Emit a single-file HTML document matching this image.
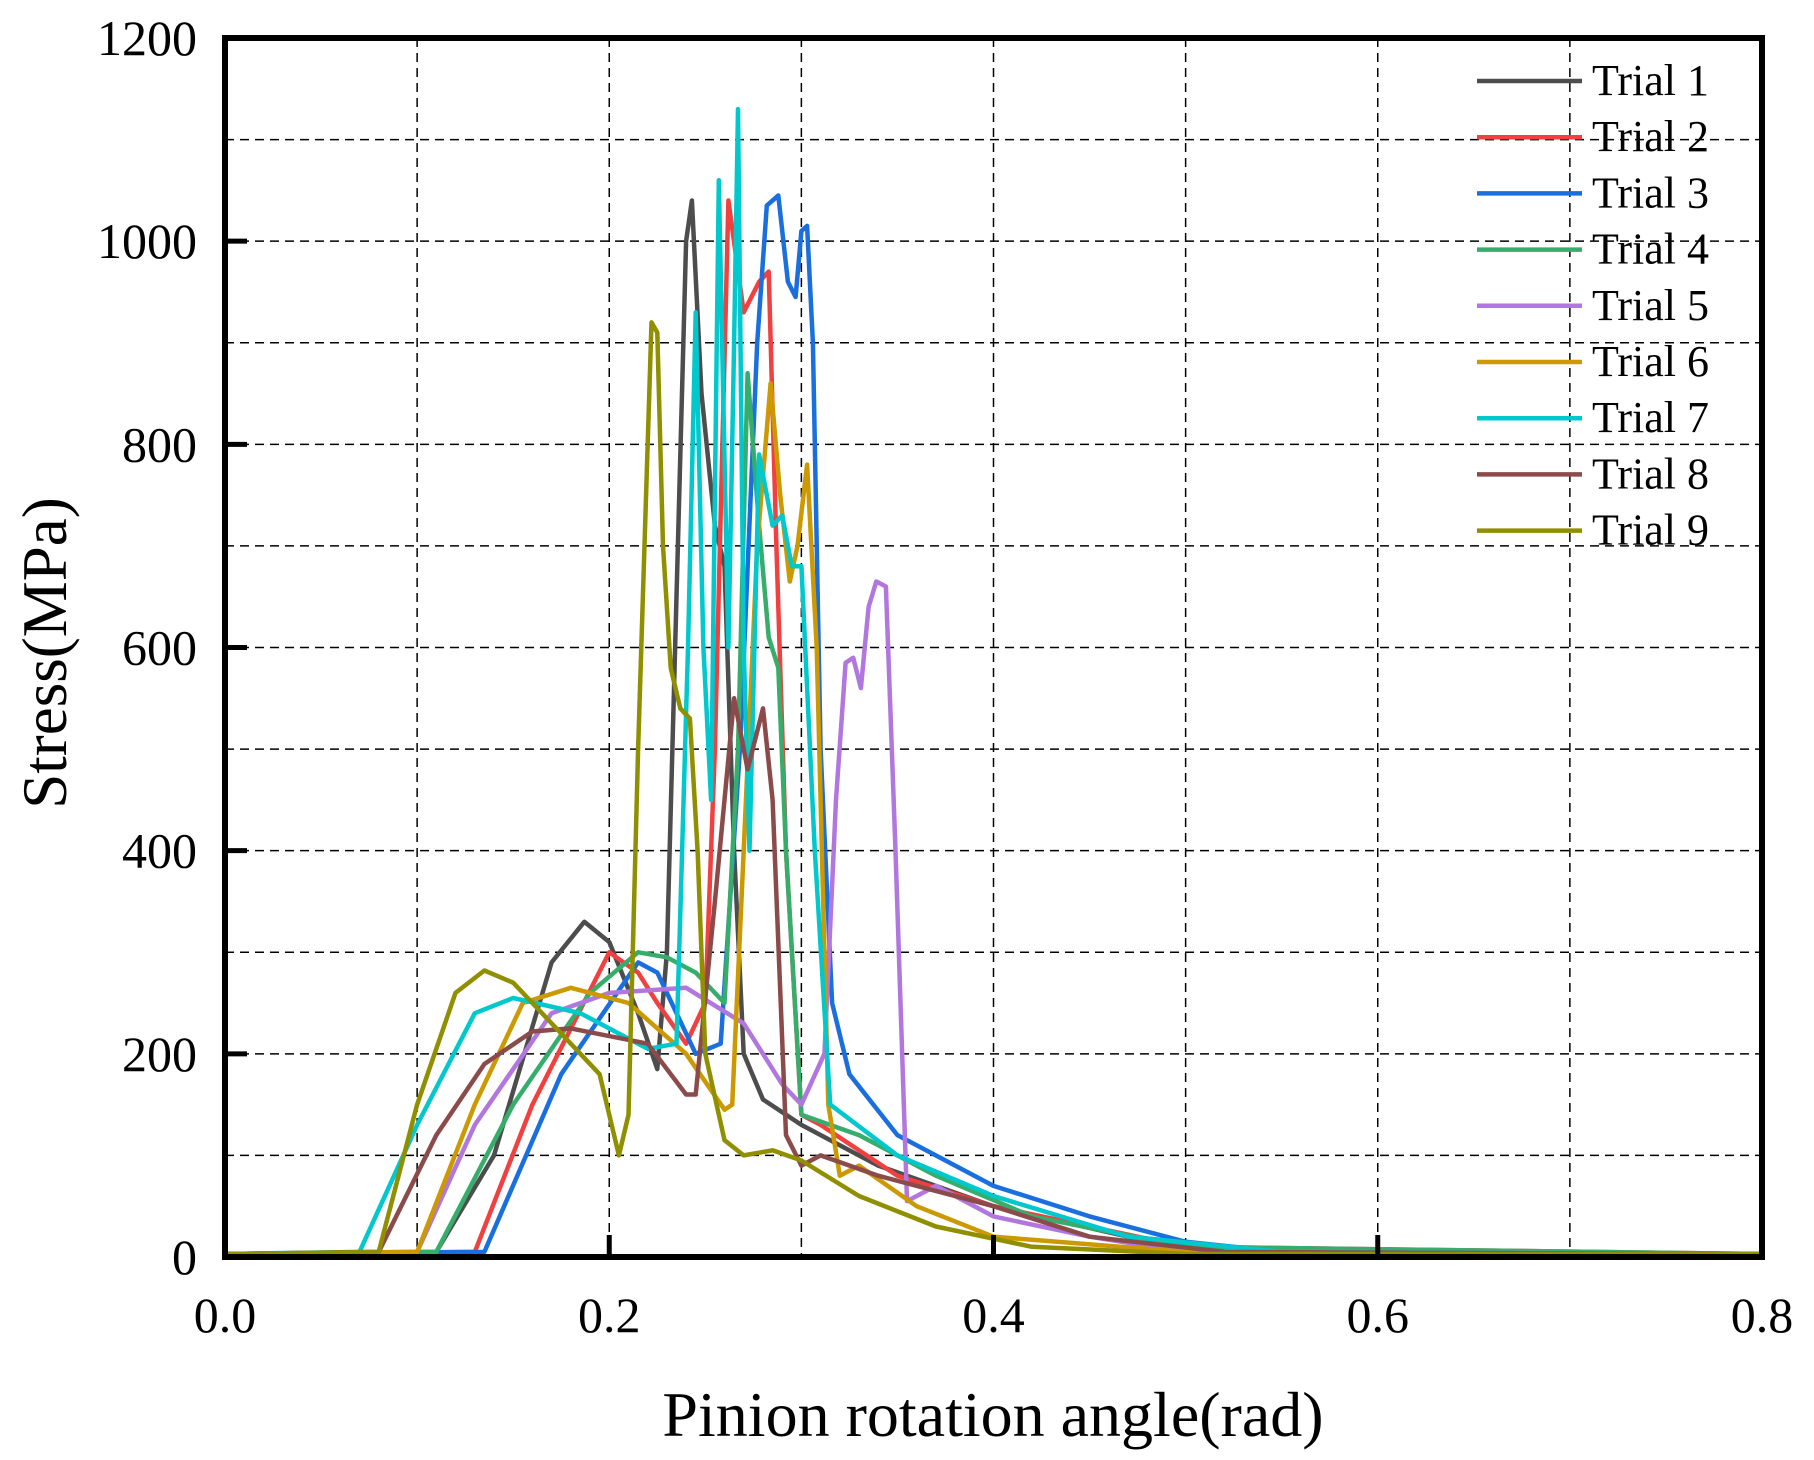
<!DOCTYPE html>
<html><head><meta charset="utf-8"><style>
html,body{margin:0;padding:0;background:#fff;}
svg{display:block;font-family:"Liberation Serif",serif;}
</style></head><body>
<svg id="chart" width="1814" height="1460" viewBox="0 0 1814 1460" xmlns="http://www.w3.org/2000/svg">
<g id="grid"></g>
<g id="series"></g>
<g id="axes"></g>
<g id="legend"></g>
<text x="993" y="1436" font-size="64" text-anchor="middle">Pinion rotation angle(rad)</text>
<text transform="translate(66,653) rotate(-90)" font-size="63" text-anchor="middle">Stress(MPa)</text>
</svg>
<script>
const xTicks = [0.0, 0.2, 0.4, 0.6, 0.8];
const xTickLabels = ["0.0", "0.2", "0.4", "0.6", "0.8"];
const yTicks = [0, 200, 400, 600, 800, 1000, 1200];
const yTickLabels = ["0", "200", "400", "600", "800", "1000", "1200"];
const seriesNames = ["Trial 1","Trial 2","Trial 3","Trial 4","Trial 5","Trial 6","Trial 7","Trial 8","Trial 9"];
const seriesColors = ["#4d4d4d","#f04040","#1a6fdf","#37ad6b","#b177de","#cc9900","#00c8cc","#8b4b4b","#8f8f00"];
const trial1 = [[0,3],[0.11,5],[0.14,100],[0.17,290],[0.187,330],[0.2,310],[0.215,240],[0.225,185],[0.23,300],[0.235,650],[0.24,1000],[0.243,1040],[0.248,850],[0.255,720],[0.26,680],[0.265,400],[0.27,200],[0.28,155],[0.3,130],[0.34,90],[0.4,50],[0.47,20],[0.55,5],[0.8,3]];
const trial2 = [[0,3],[0.13,5],[0.16,150],[0.2,300],[0.215,280],[0.225,250],[0.24,210],[0.25,250],[0.255,500],[0.262,1040],[0.27,930],[0.278,960],[0.283,970],[0.287,700],[0.292,400],[0.3,140],[0.31,130],[0.35,80],[0.4,50],[0.5,10],[0.8,3]];
const trial3 = [[0,3],[0.135,5],[0.175,180],[0.215,290],[0.225,280],[0.245,200],[0.258,210],[0.268,500],[0.277,900],[0.282,1035],[0.288,1045],[0.293,960],[0.297,945],[0.3,1010],[0.303,1015],[0.306,900],[0.31,500],[0.316,250],[0.325,180],[0.35,120],[0.4,70],[0.45,40],[0.5,15],[0.55,5],[0.8,3]];
const trial4 = [[0,3],[0.11,5],[0.15,150],[0.19,260],[0.215,300],[0.23,295],[0.245,280],[0.26,250],[0.267,500],[0.272,870],[0.278,720],[0.283,610],[0.288,580],[0.292,400],[0.3,140],[0.33,120],[0.37,80],[0.42,40],[0.5,10],[0.8,3]];
const trial5 = [[0,3],[0.1,5],[0.13,130],[0.17,240],[0.2,260],[0.24,265],[0.27,230],[0.29,170],[0.3,150],[0.312,200],[0.318,450],[0.323,585],[0.327,590],[0.331,560],[0.335,640],[0.339,665],[0.344,660],[0.349,400],[0.355,55],[0.37,70],[0.4,40],[0.45,20],[0.5,5],[0.8,3]];
const trial6 = [[0,3],[0.1,5],[0.13,150],[0.155,250],[0.18,265],[0.21,250],[0.24,200],[0.26,145],[0.264,150],[0.27,400],[0.277,700],[0.284,860],[0.289,750],[0.294,665],[0.298,700],[0.303,780],[0.308,600],[0.314,150],[0.32,80],[0.33,90],[0.36,50],[0.4,20],[0.5,5],[0.8,3]];
const trial7 = [[0,3],[0.07,5],[0.1,130],[0.13,240],[0.15,255],[0.185,240],[0.22,205],[0.235,210],[0.241,600],[0.245,930],[0.249,600],[0.253,450],[0.257,1060],[0.262,600],[0.265,900],[0.267,1130],[0.27,600],[0.273,400],[0.278,790],[0.285,720],[0.29,730],[0.295,680],[0.3,680],[0.307,400],[0.315,150],[0.35,100],[0.4,60],[0.47,20],[0.55,5],[0.8,3]];
const trial8 = [[0,3],[0.08,5],[0.11,120],[0.135,190],[0.16,222],[0.18,225],[0.22,210],[0.24,160],[0.245,160],[0.255,350],[0.265,550],[0.272,480],[0.28,540],[0.285,450],[0.292,120],[0.3,90],[0.31,100],[0.34,80],[0.4,50],[0.45,20],[0.52,5],[0.8,3]];
const trial9 = [[0,3],[0.08,5],[0.1,150],[0.12,260],[0.135,282],[0.15,270],[0.165,240],[0.18,210],[0.195,180],[0.205,100],[0.21,140],[0.215,500],[0.222,920],[0.225,910],[0.228,700],[0.232,580],[0.237,540],[0.242,530],[0.246,400],[0.25,200],[0.26,115],[0.27,100],[0.285,105],[0.3,95],[0.33,60],[0.37,30],[0.42,10],[0.5,3],[0.8,3]];
const allSeries = [trial1,trial2,trial3,trial4,trial5,trial6,trial7,trial8,trial9];

const L=225,R=1762,T=38,B=1257;
const xs=v=>L+(v-0)/0.8*(R-L);
const ys=v=>B-(v/1200)*(B-T);
const NS="http://www.w3.org/2000/svg";
function mk(tag,attrs,parent){const e=document.createElementNS(NS,tag);for(const k in attrs)e.setAttribute(k,attrs[k]);parent.appendChild(e);return e;}
const grid=document.getElementById('grid'),series=document.getElementById('series'),axes=document.getElementById('axes'),legend=document.getElementById('legend');
for(let i=1;i<8;i++){const gx=xs(i*0.1);
 const l=mk('line',{x1:gx,x2:gx,y1:T,y2:B,stroke:'#000','stroke-width':1.5,'stroke-dasharray':'9,6'},grid);
 
 }
for(let i=1;i<12;i++){const gy=ys(i*100);
 const l=mk('line',{x1:L,x2:R,y1:gy,y2:gy,stroke:'#000','stroke-width':1.5,'stroke-dasharray':'9,6'},grid);
 
 }
allSeries.forEach((s,i)=>{
 const p=mk('polyline',{points:s.map(d=>xs(d[0]).toFixed(1)+','+ys(d[1]).toFixed(1)).join(' '),fill:'none',stroke:seriesColors[i],'stroke-width':4.5,'stroke-linejoin':'round'},series);
 
 
});
const frame=mk('rect',{x:L,y:T,width:R-L,height:B-T,fill:'none',stroke:'#000','stroke-width':6},axes);


xTicks.forEach((v,i)=>{
 const tk=mk('line',{x1:xs(v),x2:xs(v),y1:B,y2:B-22,stroke:'#000','stroke-width':5},axes);
 
 
 const t=mk('text',{x:xs(v),y:B+75,'font-size':50,'text-anchor':'middle'},axes);t.textContent=xTickLabels[i];
 
 
});
yTicks.forEach((v,i)=>{
 const tk=mk('line',{x1:L,x2:L+22,y1:ys(v),y2:ys(v),stroke:'#000','stroke-width':5},axes);
 
 
 const t=mk('text',{x:L-28,y:ys(v)+17,'font-size':50,'text-anchor':'end'},axes);t.textContent=yTickLabels[i];
 
 
});
seriesNames.forEach((n,i)=>{
 const y=81+56.2*i;
 const g=mk('g',{},legend);
 
 
 mk('line',{x1:1477,x2:1582,y1:y,y2:y,stroke:seriesColors[i],'stroke-width':4.5},g);
 const t=mk('text',{x:1592,y:y+14,'font-size':44},g);t.textContent=n;
});
</script>
</body></html>
